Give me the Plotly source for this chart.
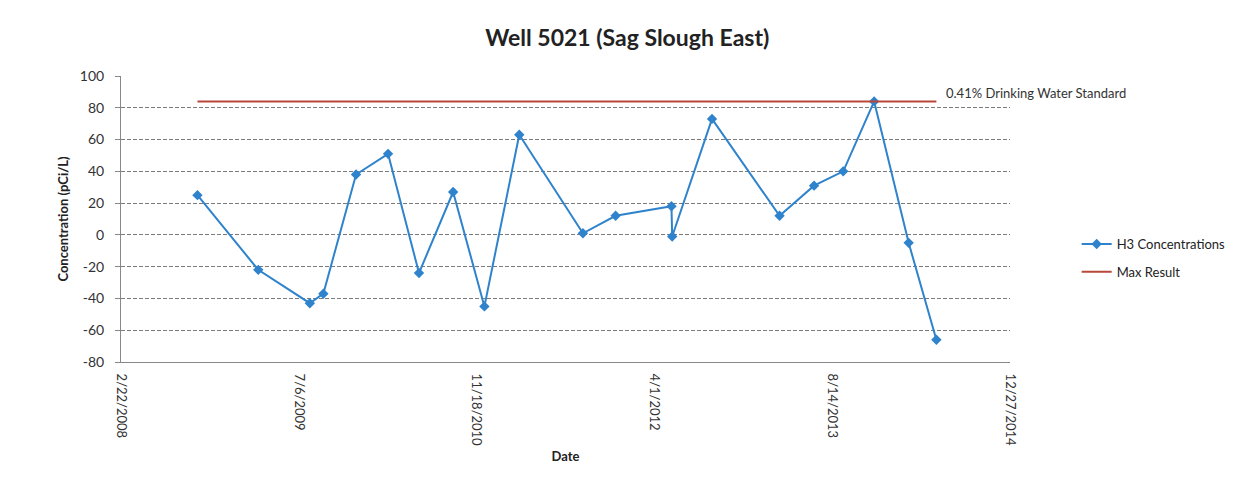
import plotly.graph_objects as go

dates = ["2008-09-24", "2009-03-14", "2009-08-06", "2009-09-13", "2009-12-14",
         "2010-03-14", "2010-06-09", "2010-09-13", "2010-12-10", "2011-03-18",
         "2011-09-13", "2011-12-14", "2012-05-19", "2012-05-21", "2012-09-10",
         "2013-03-19", "2013-06-24", "2013-09-14", "2013-12-10", "2014-03-17",
         "2014-06-03"]
h3_values = [25, -22, -43, -37, 38, 51, -24, 27, -45, 63,
             1, 12, 18, -1, 73, 12, 31, 40, 84, -5, -66]
max_result = max(h3_values)
max_dates = [dates[0], dates[-1]]
max_values = [max_result, max_result]

x_start, x_end = "2008-02-22", "2014-12-27"
y_ticks = [-80, -60, -40, -20, 0, 20, 40, 60, 80, 100]
y_tick_labels = [str(v) for v in y_ticks]  # plain hyphen-minus as in the source
tick_days = 500

FONT = "Lato"
W, H = 1235, 472  # page body has an 8px margin
fig = go.Figure()
fig.add_trace(go.Scatter(
    x=dates, y=h3_values, mode="lines+markers", name="H3 Concentrations",
    line=dict(color="#2f83cc", width=2),
    marker=dict(symbol="diamond", size=8, color="#2f83cc"),
    legend="legend"))
fig.add_trace(go.Scatter(
    x=max_dates, y=max_values, mode="lines", name="Max Result",
    line=dict(color="#b9473a", width=2), legend="legend2"))

fig.update_layout(
    width=W, height=H,
    margin=dict(l=113, r=229, t=68, b=118),
    paper_bgcolor="white", plot_bgcolor="white",
    font=dict(family=FONT, color="#333333", size=13),
    title=dict(text="<b>Well 5021 (Sag Slough East)</b>", xref="paper",
               x=(625 - 121) / 885, xanchor="center",
               font=dict(size=23, color="#222222", family=FONT),
               y=1 - 30 / H, yanchor="middle"),
    legend=dict(x=1.075, y=0.465, xanchor="left", yanchor="top",
                font=dict(size=13, family=FONT, color="#222222"),
                bgcolor="rgba(0,0,0,0)"),
    legend2=dict(x=1.075, y=0.368, xanchor="left", yanchor="top",
                 font=dict(size=13, family=FONT, color="#222222"),
                 bgcolor="rgba(0,0,0,0)"),
    showlegend=True,
)

fig.update_xaxes(
    range=[x_start, x_end], tick0=x_start, dtick=tick_days * 86400000,
    tickformat="%-m/%-d/%Y", tickangle=90, showgrid=False,
    showline=True, linecolor="#888888", linewidth=1,
    ticks="", ticklabelstandoff=8,
    tickfont=dict(size=13, family=FONT, color="#333333"),
    title=dict(text="<b>Date</b>", font=dict(size=13, family=FONT, color="#222222"), standoff=6),
    automargin=False)
fig.update_yaxes(
    range=[y_ticks[0], y_ticks[-1]], tickmode="array",
    tickvals=y_ticks, ticktext=y_tick_labels,
    showgrid=True, gridcolor="#7a7a7a", griddash="4px,2px", gridwidth=1,
    zeroline=False, showline=True, linecolor="#888888", linewidth=1,
    ticks="outside", ticklen=5, tickcolor="#888888", ticklabelstandoff=8,
    tickfont=dict(size=14, family=FONT, color="#333333"),
    title=dict(text="<b>Concentration (pCi/L)</b>", font=dict(size=13, family=FONT, color="#222222"), standoff=8),
    automargin=False)

fig.add_annotation(text="0.41% Drinking Water Standard", xref="paper", yref="paper",
                   x=(940 - 121) / 885, y=(362 - 93) / 286, xanchor="left", yanchor="middle",
                   showarrow=False, font=dict(size=13, family=FONT, color="#333333"))

fig.write_html("out.html")
